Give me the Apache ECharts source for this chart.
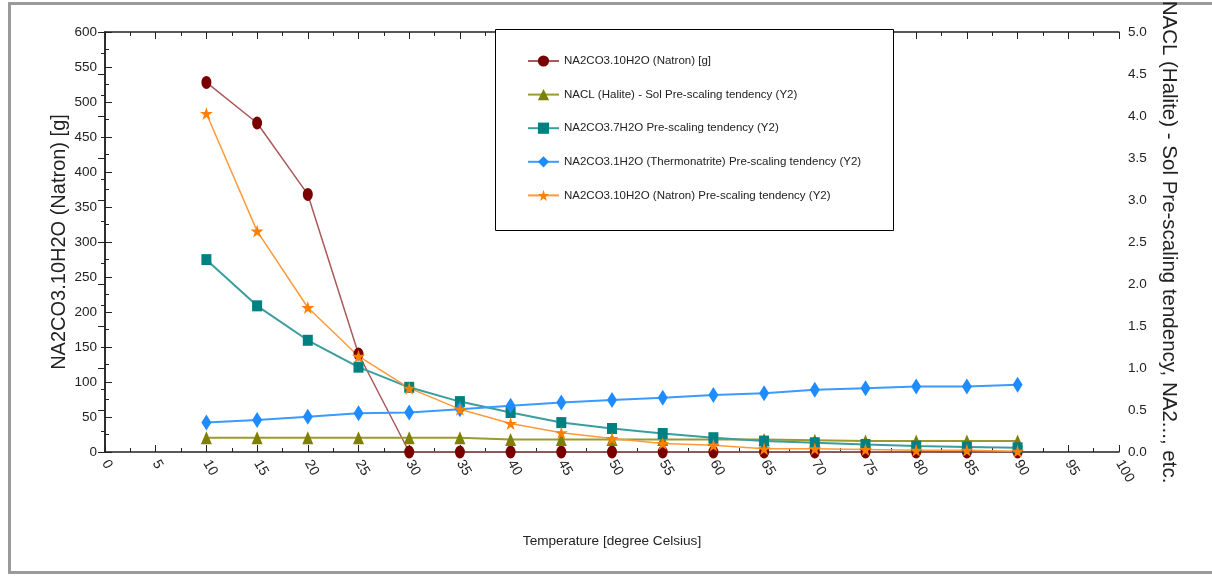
<!DOCTYPE html>
<html>
<head>
<meta charset="utf-8">
<script src="https://cdn.jsdelivr.net/npm/echarts@6/dist/echarts.min.js"></script>
<style>
    html, body { margin: 0; padding: 0; background: #fff; }
    #main { width: 1212px; height: 579px; }
</style>
</head>
<body>
<div id="main"></div>
<script>
    // temperature steps (x axis)
    const temps = [10, 15, 20, 25, 30, 35, 40, 45, 50, 55, 60, 65, 70, 75, 80, 85, 90];
    // left axis: grams of natron
    const natronG = [528, 470, 368, 140, 0, 0, 0, 0, 0, 0, 0, 0, 0, 0, 0, 0, 0];
    // right axis (Y2): pre-scaling tendencies
    const halite = [0.17, 0.17, 0.17, 0.17, 0.17, 0.17, 0.15, 0.15, 0.15, 0.15, 0.15, 0.15, 0.14, 0.13, 0.13, 0.13, 0.13];
    const hepta = [2.29, 1.74, 1.33, 1.01, 0.77, 0.60, 0.47, 0.35, 0.28, 0.22, 0.17, 0.13, 0.11, 0.09, 0.07, 0.06, 0.05];
    const thermo = [0.35, 0.38, 0.42, 0.46, 0.47, 0.51, 0.55, 0.59, 0.62, 0.645, 0.68, 0.70, 0.74, 0.76, 0.78, 0.78, 0.80];
    const natronPS = [4.03, 2.63, 1.72, 1.14, 0.76, 0.51, 0.34, 0.23, 0.16, 0.10, 0.08, 0.04, 0.04, 0.03, 0.02, 0.02, 0.01];

    const names = [
        'NA2CO3.10H2O (Natron) [g]',
        'NACL (Halite) - Sol Pre-scaling tendency (Y2)',
        'NA2CO3.7H2O Pre-scaling tendency (Y2)',
        'NA2CO3.1H2O (Thermonatrite) Pre-scaling tendency (Y2)',
        'NA2CO3.10H2O (Natron) Pre-scaling tendency (Y2)'
    ];

    const font = '"Liberation Sans", Arial, sans-serif';
    const star = 'path://M50,0 L61,35 L98,35 L68,57 L79,91 L50,70 L21,91 L32,57 L2,35 L39,35 Z';

    function pairs(vals) {
        return temps.map((t, i) => [t, vals[i]]);
    }

    function xAx(pos, show) {
        return {
            type: 'value', position: pos, min: 0, max: 100, interval: 5,
            axisLine: { show: true, onZero: false, lineStyle: { color: '#222', width: 1.5 } },
            axisTick: { show: true, inside: true, length: 7, lineStyle: { color: '#222' } },
            minorTick: { show: true, splitNumber: 2, length: 4, lineStyle: { color: '#222' } },
            splitLine: { show: false },
            axisLabel: {
                show: show, rotate: -60, margin: 9, color: '#222',
                fontFamily: font, fontSize: 14
            }
        };
    }

    let myEchart = echarts.init(document.getElementById('main'));

    let option = {
        backgroundColor: '#fff',
        animation: false,
        grid: { left: 105, right: 93, top: 32, bottom: 127, outerBoundsMode: 'none' },
        graphic: [
            {
                type: 'rect', z: 0, silent: true,
                shape: { x: 9.5, y: 3.5, width: 1215, height: 569 },
                style: { fill: 'none', stroke: '#9a9a9a', lineWidth: 3 }
            },
            {
                type: 'rect', z: 3, silent: true,
                shape: { x: 495.5, y: 29.5, width: 398, height: 201 },
                style: { fill: '#fff', stroke: '#000', lineWidth: 1 }
            }
        ],
        legend: {
            orient: 'vertical', left: 522, top: 50,
            itemWidth: 31, itemHeight: 14, itemGap: 21.6,
            textStyle: { color: '#222', fontFamily: font, fontSize: 11.5 },
            data: names
        },
        xAxis: [
            Object.assign(xAx('bottom', true), {
                name: 'Temperature [degree Celsius]', nameLocation: 'middle', nameGap: 82,
                nameMoveOverlap: false,
                nameTextStyle: { color: '#222', fontFamily: font, fontSize: 13.6 }
            }),
            xAx('top', false)
        ],
        yAxis: [
            {
                type: 'value', position: 'left', min: 0, max: 600, interval: 50,
                name: 'NA2CO3.10H2O (Natron) [g]', nameLocation: 'middle', nameGap: 36,
                nameMoveOverlap: false,
                nameTextStyle: { color: '#222', fontFamily: font, fontSize: 20 },
                axisLine: { show: true, lineStyle: { color: '#222', width: 1.5 } },
                axisTick: { show: true, inside: true, length: 7, lineStyle: { color: '#222' } },
                minorTick: { show: true, splitNumber: 2, length: 4, lineStyle: { color: '#222' } },
                splitLine: { show: false },
                axisLabel: { color: '#222', margin: 8, fontFamily: font, fontSize: 13.5 }
            },
            {
                type: 'value', position: 'right', min: 0, max: 5, interval: 0.5,
                name: 'NACL (Halite) - Sol Pre-scaling tendency, NA2..., etc.',
                nameLocation: 'middle', nameGap: 36, nameRotate: -90,
                nameTextStyle: { color: '#222', fontFamily: font, fontSize: 20.5 },
                axisLine: { show: true, lineStyle: { color: '#222', width: 1.5 } },
                axisTick: { show: true, inside: true, length: 7, lineStyle: { color: '#222' } },
                minorTick: { show: true, splitNumber: 2, length: 4, lineStyle: { color: '#222' } },
                splitLine: { show: false },
                axisLabel: {
                    color: '#222', margin: 9, fontFamily: font, fontSize: 13.5,
                    formatter: v => v.toFixed(1)
                }
            }
        ],
        series: [
            {
                name: names[0], type: 'line', yAxisIndex: 0, data: pairs(natronG),
                symbol: 'circle', symbolSize: [10, 13],
                itemStyle: { color: '#7a0000' },
                lineStyle: { color: '#a85a5a', width: 1.5 }
            },
            {
                name: names[1], type: 'line', yAxisIndex: 1, data: pairs(halite),
                symbol: 'triangle', symbolSize: [11, 13],
                itemStyle: { color: '#808000' },
                lineStyle: { color: '#9a9a30', width: 2 }
            },
            {
                name: names[2], type: 'line', yAxisIndex: 1, data: pairs(hepta),
                symbol: 'rect', symbolSize: [10, 11],
                itemStyle: { color: '#008080' },
                lineStyle: { color: '#3a9e9e', width: 2 }
            },
            {
                name: names[3], type: 'line', yAxisIndex: 1, data: pairs(thermo),
                symbol: 'diamond', symbolSize: [10, 16],
                itemStyle: { color: '#1e8cff' },
                lineStyle: { color: '#3a9aff', width: 2 }
            },
            {
                name: names[4], type: 'line', yAxisIndex: 1, data: pairs(natronPS),
                symbol: star, symbolSize: [13, 13],
                itemStyle: { color: '#ff8000' },
                lineStyle: { color: '#ff9a3a', width: 1.5 }
            }
        ]
    };
    myEchart.setOption(option);
</script>
</body>
</html>
